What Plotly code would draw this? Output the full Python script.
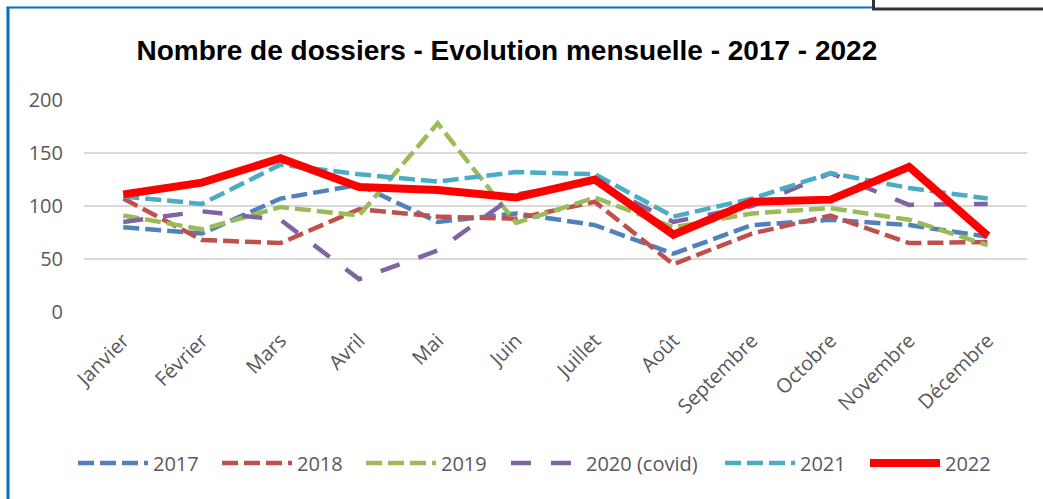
import plotly.graph_objects as go

months = ["Janvier", "Février", "Mars", "Avril", "Mai", "Juin", "Juillet",
          "Août", "Septembre", "Octobre", "Novembre", "Décembre"]

y2017 = [80, 74, 107, 120, 85, 93, 82, 55, 82, 87, 82, 71]
y2018 = [107, 68, 65, 97, 90, 88, 104, 45, 74, 91, 65, 66]
y2019 = [91, 78, 99, 91, 178, 84, 108, 80, 93, 98, 87, 63]
y2020 = [85, 95, 87, 31, 58, 111, 123, 85, 100, 131, 101, 102]
y2021 = [109, 102, 139, 130, 123, 132, 130, 90, 107, 131, 117, 107]
y2022 = [111, 122, 145, 118, 115, 108, 125, 73, 104, 106, 137, 72]

series_names = ["2017", "2018", "2019", "2020 (covid)", "2021", "2022"]
series_values = [y2017, y2018, y2019, y2020, y2021, y2022]
colors = ["#4F81BD", "#C0504D", "#9BBB59", "#8064A2", "#4BACC6", "#FF0000"]
dashes = ["16px,6px", "16px,6px", "16px,6px", "20px,20px", "16px,6px", "solid"]
widths = [4.5, 4.5, 4.5, 4.5, 4.5, 8]

# legend entry start positions (page px) for each series
legend_px = [78, 222, 366, 511, 725, 870]
legend_ids = ["legend", "legend2", "legend3", "legend4", "legend5", "legend6"]

PLOT_L, PLOT_W = 84, 943

fig = go.Figure()
for name, vals, c, d, w, lid in zip(series_names, series_values, colors, dashes, widths, legend_ids):
    fig.add_trace(go.Scatter(
        x=months, y=vals, name=name, mode="lines",
        line=dict(color=c, width=w, dash=d), legend=lid,
    ))

tick_font = dict(family="Open Sans, DejaVu Sans, sans-serif", size=20, color="#595959")
legend_font = dict(family="Open Sans, DejaVu Sans, sans-serif", size=20, color="#595959")

layout_legends = {}
for lid, px in zip(legend_ids, legend_px):
    layout_legends[lid] = dict(
        orientation="h", x=(px - 5 - PLOT_L) / PLOT_W, xanchor="left",
        y=-0.712, yanchor="middle", font=legend_font, itemwidth=70,
        bgcolor="rgba(0,0,0,0)",
    )

fig.update_layout(
    width=1043, height=499,
    margin=dict(l=84, r=16, t=100, b=187),
    paper_bgcolor="white", plot_bgcolor="white",
    title=dict(
        text="<b>Nombre de dossiers - Evolution mensuelle - 2017 - 2022</b>",
        x=0.486, xanchor="center", y=1 - 50 / 499, yanchor="middle",
        font=dict(family="Liberation Sans, Arial, sans-serif",
                  size=28, color="#000000"),
    ),
    xaxis=dict(
        type="category", range=[-0.5, 11.5], tickangle=-45,
        tickfont=tick_font, showgrid=False, showline=False, zeroline=False,
        ticks="", ticklabelstandoff=12,
    ),
    yaxis=dict(
        range=[0, 200], dtick=50, tickfont=tick_font,
        showgrid=True, gridcolor="#D9D9D9", gridwidth=2,
        zeroline=False, showline=False, ticks="", ticklabelstandoff=20,
    ),
    showlegend=True,
    **layout_legends,
)

# frame decorations (chart border and neighbouring box)
fig.add_shape(type="line", xref="paper", yref="paper",
              x0=-76 / 943, x1=-76 / 943, y0=1 + 93 / 212, y1=-1,
              line=dict(color="#0070C0", width=3))
fig.add_shape(type="line", xref="paper", yref="paper",
              x0=-77.5 / 943, x1=789 / 943, y0=1 + 92.5 / 212, y1=1 + 92.5 / 212,
              line=dict(color="#0070C0", width=2))
fig.add_shape(type="rect", xref="paper", yref="paper",
              x0=789.5 / 943, x1=990 / 943, y0=1 + 91 / 212, y1=1 + 115 / 212,
              line=dict(color="#333333", width=3), fillcolor="white")

fig.write_html("out.html", config={"displayModeBar": False},
               post_script="document.body.style.margin='0px';")
